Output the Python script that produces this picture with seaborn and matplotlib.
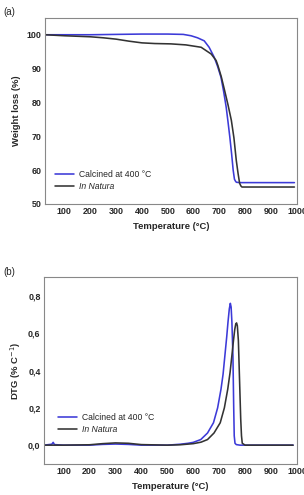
import matplotlib
matplotlib.use("Agg")
import matplotlib.pyplot as plt
import pandas as pd
import seaborn as sns
from matplotlib.ticker import MultipleLocator, FuncFormatter

# TGA (weight loss %)
tga_calc_t = [25, 100, 200, 300, 400, 500, 560, 590, 615, 641, 660, 680, 693, 706, 716,
              726, 733, 740, 747, 753, 758, 763, 766, 780, 850, 990]
tga_calc_w = [100.0, 100.0, 100.0, 100.1, 100.2, 100.2, 100.1, 99.7, 99.1, 98.2, 96.3,
              93.3, 90.6, 87.4, 83.3, 78.6, 74.3, 69.8, 64.8, 60.0, 57.3, 56.6, 56.4, 56.3,
              56.3, 56.3]
tga_nat_t = [25, 100, 200, 250, 300, 350, 400, 450, 512, 570, 629, 668, 687, 694, 707,
             720, 733, 746, 756, 765, 772, 778, 783, 787, 850, 990]
tga_nat_w = [100.0, 99.7, 99.4, 99.1, 98.7, 98.1, 97.6, 97.4, 97.3, 97.0, 96.3, 94.3,
             92.4, 90.9, 87.6, 83.5, 79.3, 74.7, 69.5, 62.9, 59.0, 56.1, 55.3, 55.0, 55.0,
             55.0]

# DTG (% C^-1)
dtg_calc_t = [25, 55, 60, 65, 100, 200, 250, 300, 350, 400, 500, 550, 580, 600, 629, 655,
              678, 694, 707, 715, 722, 729, 734, 739, 743, 746, 749, 753, 756, 758, 761,
              766, 780, 900, 985]
dtg_calc_v = [0.0, 0.005, 0.015, 0.003, 0.0, 0.0, 0.004, 0.006, 0.004, 0.0, 0.0, 0.005,
              0.01, 0.015, 0.03, 0.065, 0.12, 0.2, 0.3, 0.38, 0.48, 0.58, 0.66, 0.73, 0.76,
              0.74, 0.66, 0.48, 0.2, 0.05, 0.01, 0.003, 0.0, 0.0, 0.0]
dtg_nat_t = [25, 100, 200, 250, 300, 350, 400, 500, 550, 600, 630, 655, 680, 704, 720,
             733, 742, 749, 755, 760, 764, 767, 770, 774, 777, 780, 783, 786, 789, 800,
             900, 985]
dtg_nat_v = [0.0, 0.0, 0.002, 0.008, 0.012, 0.010, 0.003, 0.0, 0.002, 0.008, 0.016, 0.03,
             0.065, 0.12, 0.2, 0.3, 0.39, 0.48, 0.56, 0.62, 0.65, 0.655, 0.64, 0.56, 0.42,
             0.28, 0.14, 0.05, 0.01, 0.0, 0.0, 0.0]

labels = ["Calcined at 400 °C", "In Natura"]
colors = ["#3c3ad8", "#333333"]


def frame(ax):
    for s in ax.spines.values():
        s.set_color("#888888")
        s.set_linewidth(0.8)
    ax.tick_params(axis="both", which="both", direction="in", length=2.5, width=0.6,
                   color="#555555", labelsize=6.4, pad=2.5)
    ax.tick_params(which="minor", length=1.5)
    for lab in ax.get_xticklabels() + ax.get_yticklabels():
        lab.set_fontweight("bold")
    ax.xaxis.set_major_locator(MultipleLocator(100))
    ax.xaxis.set_minor_locator(MultipleLocator(50))
    ax.set_xlim(25, 1000)
    ax.set_xlabel("Temperature (°C)", fontsize=6.8, fontweight="bold", labelpad=4)


def legend(ax, x, y):
    leg = ax.legend(loc="center left", bbox_to_anchor=(x, y), frameon=False,
                    fontsize=6.2, handlelength=2.2, handletextpad=0.6,
                    borderaxespad=0, borderpad=0, labelspacing=0.35)
    leg.get_texts()[1].set_fontstyle("italic")


sns.set_theme(style="white")
plt.rcParams["font.family"] = ["Liberation Sans", "DejaVu Sans"]

fig = plt.figure(figsize=(3.04, 4.95), dpi=100)
ax1 = fig.add_axes([0.148, 0.588, 0.829, 0.376])
ax2 = fig.add_axes([0.145, 0.063, 0.832, 0.377])

df_a = pd.concat([
    pd.DataFrame({"T": tga_calc_t, "v": tga_calc_w, "s": labels[0]}),
    pd.DataFrame({"T": tga_nat_t, "v": tga_nat_w, "s": labels[1]}),
])
df_b = pd.concat([
    pd.DataFrame({"T": dtg_calc_t, "v": dtg_calc_v, "s": labels[0]}),
    pd.DataFrame({"T": dtg_nat_t, "v": dtg_nat_v, "s": labels[1]}),
])

sns.lineplot(data=df_a, x="T", y="v", hue="s", palette=colors, linewidth=1.15,
             sort=False, estimator=None, ax=ax1)
sns.lineplot(data=df_b, x="T", y="v", hue="s", palette=colors, linewidth=1.15,
             sort=False, estimator=None, ax=ax2)

ax1.set_ylim(50, 105)
ax1.yaxis.set_major_locator(MultipleLocator(10))
ax1.yaxis.set_minor_locator(MultipleLocator(5))
ax1.set_ylabel("Weight loss (%)", fontsize=6.8, fontweight="bold", labelpad=4)
frame(ax1)
legend(ax1, 0.04, 0.127)

ax2.set_ylim(-0.1, 0.9)
ax2.yaxis.set_major_locator(MultipleLocator(0.2))
ax2.yaxis.set_minor_locator(MultipleLocator(0.1))
ax2.yaxis.set_major_formatter(FuncFormatter(lambda v, p: f"{v:.1f}".replace(".", ",")))
ax2.set_ylabel("DTG (% C$^{-1}$)", fontsize=6.8, fontweight="bold", labelpad=4)
frame(ax2)
legend(ax2, 0.054, 0.217)

fig.text(0.012, 0.976, "(a)", fontsize=7, va="center")
fig.text(0.012, 0.45, "(b)", fontsize=7, va="center")

fig.savefig("out.png", dpi=100)
